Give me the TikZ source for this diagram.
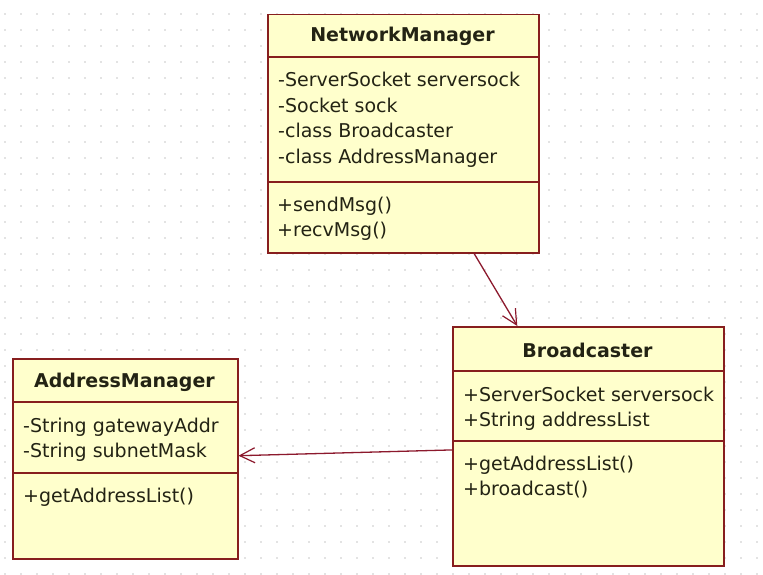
\documentclass[tikz,border=0pt]{standalone}
\usepackage{fontspec}
\setmainfont{DejaVu Sans}
\usetikzlibrary{arrows.meta,calc}

\definecolor{classfill}{RGB}{255,255,204}
\definecolor{classline}{RGB}{135,30,30}
\definecolor{assocline}{RGB}{140,25,45}
\definecolor{textcol}{RGB}{35,35,20}
\definecolor{griddot}{RGB}{200,200,200}

\tikzset{
  classbox/.style={draw=classline, fill=classfill, line width=1.5pt,
    rectangle, inner sep=0pt, anchor=north west},
  divider/.style={draw=classline, line width=1.5pt},
  classtitle/.style={anchor=base, inner sep=0pt, text=textcol,
    font=\fontsize{19}{25}\selectfont\bfseries},
  member/.style={anchor=base west, inner sep=0pt, text=textcol,
    font=\fontsize{19}{25}\selectfont},
  assoc/.style={draw=assocline, line width=1.3pt,
    -{Straight Barb[length=15pt,width=15pt,line width=1.2pt]}},
}

\begin{document}
\begin{tikzpicture}[x=1pt,y=-1pt]
  % canvas and dotted grid
  \fill[white] (0,0) rectangle (763,575);
  \useasboundingbox (0,0) rectangle (763,575);
  \foreach \i in {0,...,47}{
    \foreach \j in {0,...,35}{
      \fill[griddot] (5+16*\i,14+16*\j) circle[radius=0.9pt];
    }
  }

  % NetworkManager
  \node[classbox, minimum width=271pt, minimum height=238pt] (nm) at (267,14) {};
  \draw[divider] ($(nm.north west)+(0,43)$) -- ($(nm.north east)+(0,43)$);
  \draw[divider] ($(nm.north west)+(0,168)$) -- ($(nm.north east)+(0,168)$);
  \node[classtitle] (nmt) at (402.5,42) {NetworkManager};
  \node[member] (nma1) at (278,87) {-ServerSocket serversock};
  \node[member] (nma2) at (278,112.5) {-Socket sock};
  \node[member] (nma3) at (278,138) {-class Broadcaster};
  \node[member] (nma4) at (278,163.5) {-class AddressManager};
  \node[member] (nmo1) at (277,211) {+sendMsg()};
  \node[member] (nmo2) at (277,236.5) {+recvMsg()};

  % Broadcaster
  \node[classbox, minimum width=271pt, minimum height=239pt] (bc) at (452,326) {};
  \draw[divider] ($(bc.north west)+(0,45)$) -- ($(bc.north east)+(0,45)$);
  \draw[divider] ($(bc.north west)+(0,115)$) -- ($(bc.north east)+(0,115)$);
  \node[classtitle] (bct) at (587.5,357) {Broadcaster};
  \node[member] (bca1) at (463,401) {+ServerSocket serversock};
  \node[member] (bca2) at (463,426.5) {+String addressList};
  \node[member] (bco1) at (463,470) {+getAddressList()};
  \node[member] (bco2) at (463,495.5) {+broadcast()};

  % AddressManager
  \node[classbox, minimum width=225pt, minimum height=200pt] (am) at (12,358) {};
  \draw[divider] ($(am.north west)+(0,44)$) -- ($(am.north east)+(0,44)$);
  \draw[divider] ($(am.north west)+(0,115)$) -- ($(am.north east)+(0,115)$);
  \node[classtitle] (amt) at (124.5,387) {AddressManager};
  \node[member] (ama1) at (23,432) {-String gatewayAddr};
  \node[member] (ama2) at (23,457.5) {-String subnetMask};
  \node[member] (amo1) at (23,502) {+getAddressList()};

  % associations
  \draw[assoc] (nm) -- (bc);
  \draw[assoc] (bc) -- (am);
\end{tikzpicture}
\end{document}
